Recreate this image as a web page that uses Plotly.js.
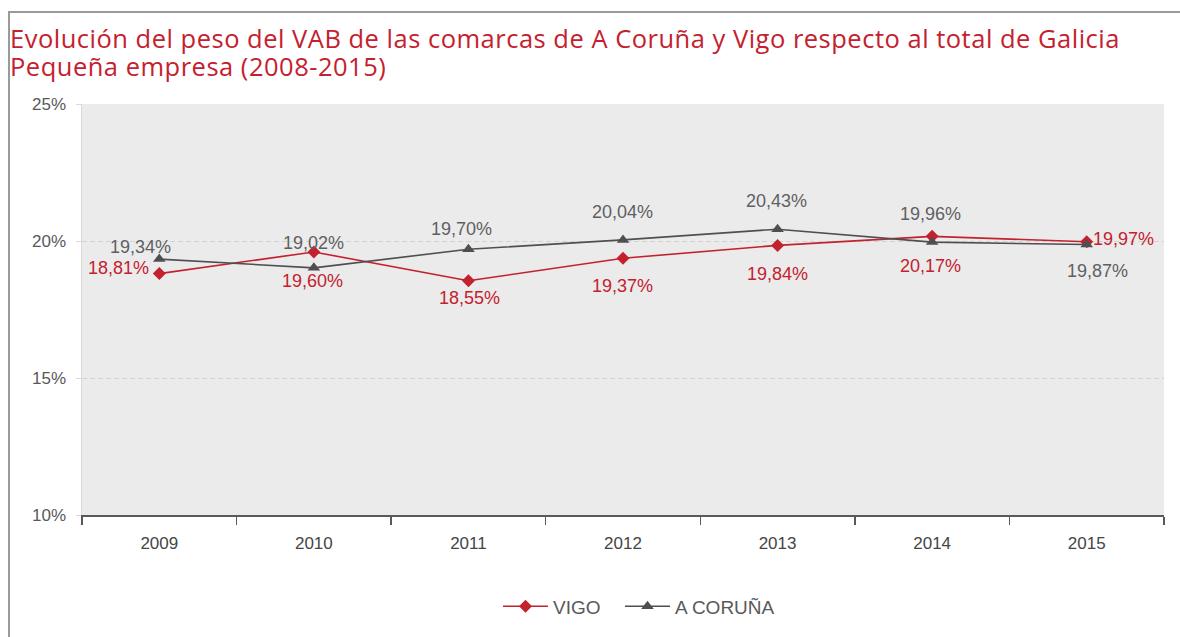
<!DOCTYPE html>
<html>
<head>
<meta charset="utf-8">
<script src="https://cdn.plot.ly/plotly-3.0.1.min.js"></script>
<style>
html,body{margin:0;padding:0;background:#fff;}
#frame{position:absolute;left:8px;top:11px;width:1180px;height:640px;border-top:2px solid #9a9a9a;border-left:2px solid #9a9a9a;box-sizing:border-box;}
#chart{position:absolute;left:0;top:0;width:1180px;height:637px;}
#chart .annotation[data-index="0"] text, #chart .annotation[data-index="1"] text{letter-spacing:0.5px;}
</style>
</head>
<body>
<div id="frame"></div>
<div id="chart"></div>
<script>
const years = ['2009','2010','2011','2012','2013','2014','2015'];
const vigo = [18.81, 19.60, 18.55, 19.37, 19.84, 20.17, 19.97];
const coruna = [19.34, 19.02, 19.70, 20.04, 20.43, 19.96, 19.87];
const yTicks = [10, 15, 20, 25];
const yTickText = ['10%', '15%', '20%', '25%'];
const titleLines = ['Evolución del peso del VAB de las comarcas de A Coruña y Vigo respecto al total de Galicia', 'Pequeña empresa (2008-2015)'];
const fmt = v => v.toFixed(2).replace('.', ',') + '%';

// label offsets in pixels (style only)
const vigoShift = [[-41, 6], [-1, -29], [1, -17], [-1, -28], [0, -29], [-2, -30], [37, 3]];
const corunaShift = [[-19, 12], [0, 25], [-7, 20], [-1, 28], [-1, 28], [-2, 28], [11, -26]];

const red = '#c4212f';
const gray = '#4f4f53';
const labelFont = 'Liberation Sans, Arial, sans-serif';

const traces = [
  {
    x: years, y: vigo, name: 'VIGO', type: 'scatter', mode: 'lines+markers',
    legend: 'legend',
    line: {color: red, width: 1.6},
    marker: {symbol: 'diamond', size: 10, color: red},
    cliponaxis: false
  },
  {
    x: years, y: coruna, name: 'A CORUÑA', type: 'scatter', mode: 'lines+markers',
    legend: 'legend2',
    line: {color: gray, width: 1.6},
    marker: {symbol: 'triangle-up', size: 11, color: gray},
    cliponaxis: false
  }
];

const annotations = [];
const titleY = [38, 66];
titleLines.forEach((t, k) => {
  annotations.push({
    xref: 'paper', yref: 'paper', x: (8 - 82) / 1082, y: (518 - titleY[k]) / 414,
    xanchor: 'left', yanchor: 'middle', align: 'left', showarrow: false,
    text: t,
    font: {family: 'Open Sans, sans-serif', size: 25.5, color: '#c4212f'}
  });
});
years.forEach((yr, i) => {
  annotations.push({
    x: i, y: vigo[i], xref: 'x', yref: 'y', text: fmt(vigo[i]), showarrow: false,
    xshift: vigoShift[i][0], yshift: vigoShift[i][1], xanchor: 'center', yanchor: 'middle',
    font: {family: labelFont, size: 18, color: red}
  });
  annotations.push({
    x: i, y: coruna[i], xref: 'x', yref: 'y', text: fmt(coruna[i]), showarrow: false,
    xshift: corunaShift[i][0], yshift: corunaShift[i][1], xanchor: 'center', yanchor: 'middle',
    font: {family: labelFont, size: 18, color: '#5f5f63'}
  });
});

const legendBase = {
  orientation: 'h', yanchor: 'middle', xanchor: 'left', y: (518 - 610) / 414,
  itemwidth: 45,
  font: {family: labelFont, size: 19, color: '#595959'},
  bgcolor: 'rgba(0,0,0,0)'
};

const layout = {
  width: 1180, height: 637,
  paper_bgcolor: 'rgba(0,0,0,0)',
  plot_bgcolor: '#ebebeb',
  margin: {l: 82, r: 16, t: 104, b: 119},
  xaxis: {
    type: 'category', range: [-0.5, 6.5],
    tickson: 'boundaries', ticks: 'outside', ticklen: 8, tickwidth: 1.5, tickcolor: '#595959',
    showline: true, linecolor: '#595959', linewidth: 2,
    showgrid: false, fixedrange: true, ticklabelstandoff: 12,
    tickfont: {family: labelFont, size: 17, color: '#454545'}
  },
  yaxis: {
    range: [10, 25], tickmode: 'array', tickvals: yTicks, ticktext: yTickText,
    showgrid: true, gridcolor: '#d3d3d3', griddash: '5px,3px', gridwidth: 1,
    zeroline: false, showline: true, linecolor: '#d9d9d9', linewidth: 1.5,
    ticks: 'outside', ticklen: 5, tickcolor: '#d9d9d9', ticklabelstandoff: 6,
    tickfont: {family: labelFont, size: 17, color: '#595959'},
    fixedrange: true
  },
  annotations: annotations,
  showlegend: true,
  legend: Object.assign({}, legendBase, {x: (498 - 82) / 1082}),
  legend2: Object.assign({}, legendBase, {x: (620 - 82) / 1082})
};

Plotly.newPlot('chart', traces, layout, {displayModeBar: false, staticPlot: true});
</script>
</body>
</html>
